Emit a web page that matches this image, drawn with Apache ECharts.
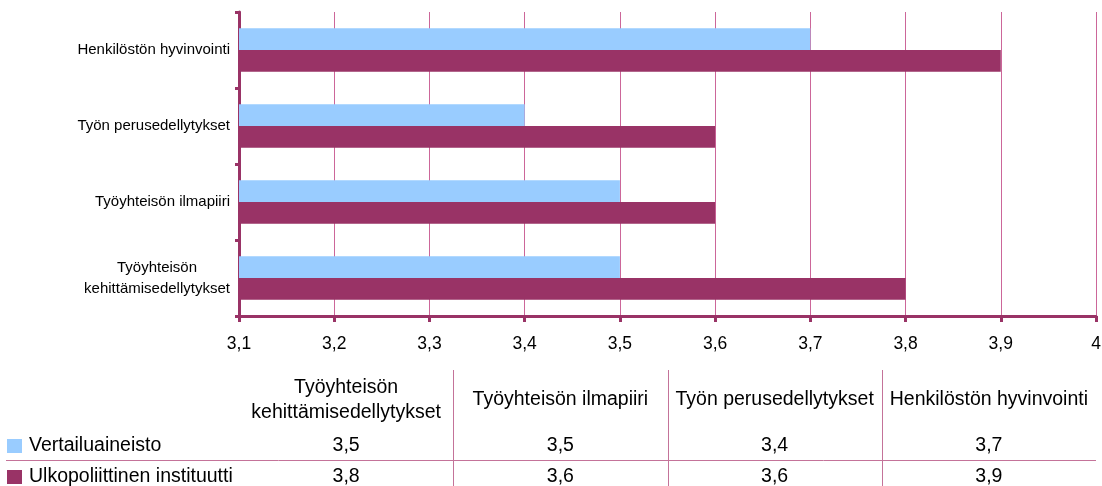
<!DOCTYPE html>
<html>
<head>
<meta charset="utf-8">
<script src="https://cdn.jsdelivr.net/npm/echarts@6.0.0/dist/echarts.min.js"></script>
<style>
  html, body { margin: 0; padding: 0; background: #fff; }
  #chart { width: 1102px; height: 486px; }
</style>
</head>
<body>
<div id="chart"></div>
<script>
// kategoriat alhaalta ylös (sama järjestys kuin taulukossa vasemmalta oikealle)
var categories = ['Työyhteisön\nkehittämisedellytykset', 'Työyhteisön ilmapiiri', 'Työn perusedellytykset', 'Henkilöstön hyvinvointi'];
var seriesNames = ['Vertailuaineisto', 'Ulkopoliittinen instituutti'];
var vertailu = [3.5, 3.5, 3.4, 3.7];
var ulkopol = [3.8, 3.6, 3.6, 3.9];
var xMin = 3.1, xMax = 4, xStep = 0.1;

var colors = ['#99ccff', '#993366'];
var font = 'Liberation Sans, Arial, sans-serif';

// grid edges (px)
var gridLeft = 239, gridRight = 6, gridTop = 12, gridBottom = 170;
var W = 1102;

function fmt(v) {
  return String(Math.round(v * 10) / 10).replace('.', ',');
}

// data table under the chart
function tableGraphics() {
  var x0 = gridLeft, x1 = W - gridRight;
  var colW = (x1 - x0) / categories.length;
  var els = [];
  var lineColor = '#c47399';
  var rows = [vertailu, ulkopol];
  var rowY = [446, 477];

  categories.forEach(function (c, i) {
    els.push({
      type: 'text',
      x: x0 + colW * (i + 0.5), y: 400,
      style: { text: c, font: '19.5px ' + font, fill: '#000', align: 'center', verticalAlign: 'middle', lineHeight: 25 }
    });
    if (i > 0) {
      els.push({
        type: 'line',
        shape: { x1: Math.round(x0 + colW * i) + 0.5, y1: 370, x2: Math.round(x0 + colW * i) + 0.5, y2: 486 },
        style: { stroke: lineColor, lineWidth: 1 }
      });
    }
    rows.forEach(function (r, j) {
      els.push({
        type: 'text',
        x: x0 + colW * (i + 0.5), y: rowY[j],
        style: { text: fmt(r[i]), font: '19.5px ' + font, fill: '#000', align: 'center', verticalAlign: 'middle' }
      });
    });
  });

  seriesNames.forEach(function (n, j) {
    els.push({
      type: 'rect',
      shape: { x: 7, y: rowY[j] - 7, width: 15, height: 14 },
      style: { fill: colors[j] }
    });
    els.push({
      type: 'text',
      x: 29, y: rowY[j],
      style: { text: n, font: '19.5px ' + font, fill: '#000', align: 'left', verticalAlign: 'middle' }
    });
  });

  els.push({
    type: 'line',
    shape: { x1: 6, y1: 460.5, x2: x1, y2: 460.5 },
    style: { stroke: lineColor, lineWidth: 1 }
  });
  return els;
}

var myChart = echarts.init(document.getElementById('chart'), null, { renderer: 'canvas' });

var option = {
  animation: false,
  backgroundColor: '#fff',
  textStyle: { fontFamily: font },
  grid: {
    left: gridLeft, right: gridRight, top: gridTop, bottom: gridBottom,
    containLabel: false, outerBoundsMode: 'none'
  },
  xAxis: {
    type: 'value',
    min: xMin, max: xMax, interval: xStep,
    axisLine: { show: true, lineStyle: { color: '#993366', width: 3 } },
    axisTick: { show: true, length: 6, lineStyle: { color: '#993366', width: 3 } },
    axisLabel: { formatter: fmt, fontSize: 17.5, color: '#000', margin: 19, fontFamily: font },
    splitLine: { show: true, lineStyle: { color: '#cc6699', width: 1 } }
  },
  yAxis: {
    type: 'category',
    data: categories,
    axisLine: { show: true, lineStyle: { color: '#993366', width: 3 } },
    axisTick: { show: true, length: 4, lineStyle: { color: '#993366', width: 3 } },
    axisLabel: {
      fontSize: 15, color: '#000', margin: 9, fontFamily: font,
      formatter: function (v) {
        if (v.indexOf('\n') < 0) return v;
        return v.split('\n').map(function (s) { return '{m|' + s + '}'; }).join('\n');
      },
      rich: { m: { width: 146, align: 'center', fontSize: 15, lineHeight: 21, fontFamily: font, color: '#000' } }
    },
    splitLine: { show: false }
  },
  series: [
    {
      name: seriesNames[0], type: 'bar', data: vertailu,
      itemStyle: { color: colors[0] },
      barGap: '0%', barCategoryGap: '43%'
    },
    {
      name: seriesNames[1], type: 'bar', data: ulkopol,
      itemStyle: { color: colors[1] },
      barGap: '0%', barCategoryGap: '43%'
    }
  ],
  graphic: tableGraphics()
};

myChart.setOption(option);
</script>
</body>
</html>
